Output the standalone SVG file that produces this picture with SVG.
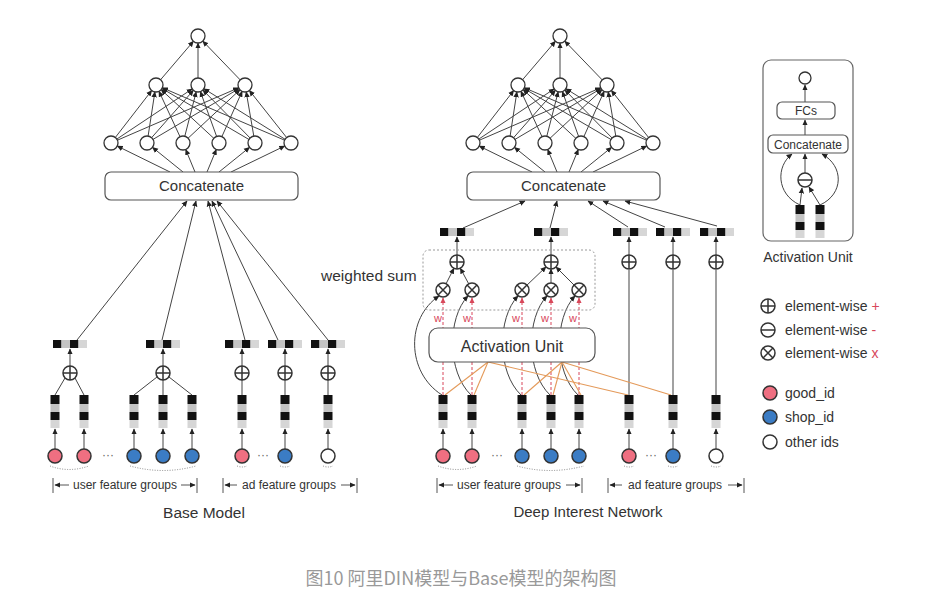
<svg xmlns="http://www.w3.org/2000/svg" width="945" height="598" viewBox="0 0 945 598">
<style>
.ln{stroke:#444;stroke-width:1;fill:none}
.ar{marker-end:url(#ah)}
.nd{fill:#fff;stroke:#333;stroke-width:1.3}
.gid{fill:#ef6f81;stroke:#333;stroke-width:1.5}
.sid{fill:#3b7cc4;stroke:#333;stroke-width:1.5}
.oid{fill:#fff;stroke:#333;stroke-width:1.5}
.box{fill:#fff;stroke:#555;stroke-width:1.2}
.tx{font-family:"Liberation Sans",Arial,sans-serif;fill:#333}
.red{stroke:#d8475a;stroke-width:1;stroke-dasharray:3 2;fill:none;marker-end:url(#ahr)}
.wl{font-family:"Liberation Sans",Arial,sans-serif;font-size:11px;fill:#d8475a;text-anchor:middle}
.or{stroke:#e49a5a;stroke-width:1.1;fill:none}
.dot{stroke:#888;stroke-width:1;stroke-dasharray:1 1.5;fill:none}
.gv{stroke:#8a8a8a;stroke-width:1.6;fill:none}
.br{stroke:#555;stroke-width:1;fill:none}
.dots{font-family:"Liberation Sans",Arial,sans-serif;font-size:12px;fill:#666;text-anchor:middle}
</style>
<defs>
<marker id="ah" viewBox="0 0 10 10" refX="9" refY="5" markerWidth="6" markerHeight="6" markerUnits="userSpaceOnUse" orient="auto"><path d="M0,0.5L10,5L0,9.5z" fill="#222"/></marker>
<marker id="ahr" viewBox="0 0 10 10" refX="9" refY="5" markerWidth="6" markerHeight="6" markerUnits="userSpaceOnUse" orient="auto"><path d="M0,0.5L10,5L0,9.5z" fill="#d8475a"/></marker>
<g id="hemb"><rect x="0" y="0" width="8.5" height="8" fill="#111"/><rect x="8.5" y="0" width="8.5" height="8" fill="#c4c4c4"/><rect x="17" y="0" width="8.5" height="8" fill="#111"/><rect x="25.5" y="0" width="8.5" height="8" fill="#d6d6d6"/></g>
<g id="vemb"><rect x="-4.5" y="0" width="9" height="9" fill="#111"/><rect x="-4.5" y="9" width="9" height="8" fill="#c4c4c4"/><rect x="-4.5" y="17" width="9" height="8" fill="#111"/><rect x="-4.5" y="25" width="9" height="8" fill="#d6d6d6"/></g>
<g id="oplus"><circle r="7" fill="#fff" stroke="#333" stroke-width="1.5"/><path d="M-7,0H7M0,-7V7" stroke="#333" stroke-width="1.5"/></g>
<g id="otimes"><circle r="7" fill="#fff" stroke="#333" stroke-width="1.5"/><path d="M-4.95,-4.95L4.95,4.95M-4.95,4.95L4.95,-4.95" stroke="#333" stroke-width="1.5"/></g>
<g id="ominus"><circle r="7" fill="#fff" stroke="#333" stroke-width="1.5"/><path d="M-7,0H7" stroke="#333" stroke-width="1.5"/></g>
<g id="mlpEdges" class="ln ar">
<path d="M160.6,79.7L193.4,41.3"/><path d="M198,78L198,43"/><path d="M240.2,79.9L202.8,41.1"/>
<path d="M115.3,137.5L151.7,90.5"/><path d="M148.1,136.1L154.9,91.9"/><path d="M180,136.7L159,91.3"/><path d="M213.8,138.3L161.2,89.7"/><path d="M249,139.5L162,88.5"/><path d="M284.6,140.2L162.4,87.8"/>
<path d="M116.8,139.1L192.2,88.9"/><path d="M151.6,137.7L193.4,90.3"/><path d="M184.8,136.2L196.2,91.8"/><path d="M216.6,136.4L200.4,91.6"/><path d="M250.1,138L202.9,90"/><path d="M285.1,139.3L203.9,88.7"/>
<path d="M117.4,140.2L238.6,87.8"/><path d="M153,139.4L239,88.6"/><path d="M188.1,138.2L239.9,89.8"/><path d="M221.9,136.6L242.1,91.4"/><path d="M253.8,136.1L246.2,91.9"/><path d="M286.6,137.5L249.4,90.5"/>
<path d="M170,172L117.3,146.1"/><path d="M183,172L152.5,147.4"/><path d="M195,172L185.7,149.5"/><path d="M207,172L216.3,149.5"/><path d="M219,172L249.5,147.4"/><path d="M231,172L284.7,146"/>
</g>
<g id="mlpNodes" class="nd">
<circle cx="198" cy="36" r="7"/>
<circle cx="156" cy="85" r="7"/><circle cx="198" cy="85" r="7"/><circle cx="245" cy="85" r="7"/>
<circle cx="111" cy="143" r="7"/><circle cx="147" cy="143" r="7"/><circle cx="183" cy="143" r="7"/><circle cx="219" cy="143" r="7"/><circle cx="255" cy="143" r="7"/><circle cx="291" cy="143" r="7"/>
</g>
</defs>

<g id="connectors">
<use href="#mlpEdges"/>
<use href="#mlpEdges" x="362"/>
<g class="ln ar">
<path d="M55,449V429"/><path d="M84,449V429"/><path d="M134,449V429"/><path d="M163,449V429"/><path d="M192,449V429"/><path d="M242,449V429"/><path d="M285,449V429"/><path d="M328,449V429"/>
<path d="M70,366V349"/><path d="M163,366V349"/><path d="M242,366V349"/><path d="M285,366V349"/><path d="M328,366V349"/>
<path d="M77,340L187,201"/><path d="M162,340L196,201"/><path d="M245,340L208,201"/><path d="M278,340L212,201"/><path d="M328,340L217,201"/>
</g>
<g class="ln">
<path d="M55,395L65,378"/><path d="M84,395L75,378"/><path d="M134,395L157,377"/><path d="M163,395V380"/><path d="M192,395L169,377"/><path d="M242,395V380"/><path d="M285,395V380"/><path d="M328,395V380"/>
</g>
<g class="dot">
<path d="M50,466Q69,473 89,466"/><path d="M130,466Q163,475 196,466"/><path d="M237,466Q242,468 247,466"/><path d="M280,466Q285,468 290,466"/><path d="M323,466Q328,468 333,466"/>
<path d="M438,466Q457,473 477,466"/><path d="M517,466Q550,475 584,466"/><path d="M624,466Q629,468 634,466"/><path d="M668,466Q673,468 678,466"/><path d="M711,466Q716,468 721,466"/>
</g>
<g class="ln ar">
<path d="M443,449V429"/><path d="M472,449V429"/><path d="M522,449V429"/><path d="M551,449V429"/><path d="M579,449V429"/><path d="M629,449V429"/><path d="M673,449V429"/><path d="M716,449V429"/>
<path d="M457,255V237"/><path d="M551,255V237"/><path d="M629,255V237"/><path d="M673,255V237"/><path d="M716,255V237"/>
<path d="M463,228L525,201"/><path d="M550,228L557,201"/><path d="M628,227L588,201"/><path d="M665,227L603,201"/><path d="M717,226L625,201"/>
<path d="M446.1,283.7L453.9,268.3"/><path d="M468.7,283.8L460.3,268.2"/><path d="M527,285.1L546,266.9"/><path d="M551,283V269"/><path d="M574,285L556,267"/>
</g>
<g class="gv"><path d="M629,395V270"/><path d="M673,395V270"/><path d="M716,395V270"/></g>
<g class="red">
<path d="M443,395V298"/><path d="M472,395V298"/><path d="M522,395V298"/><path d="M551,395V298"/><path d="M579,395V298"/>
</g>
<g class="ln ar">
<path d="M442,395C406,372 406,318 439,296"/>
<path d="M471,395C447,372 447,318 468,296"/>
<path d="M521,395C497,372 497,318 518,296"/>
<path d="M550,395C526,372 526,318 547,296"/>
<path d="M578,395C554,372 554,318 575,296"/>
</g>
<g class="or">
<path d="M488,362L445,395"/><path d="M488,362L474,395"/><path d="M488,362L628,395"/>
<path d="M562,362L524,395"/><path d="M562,362L553,395"/><path d="M562,362L581,395"/><path d="M562,362L671,395"/>
</g>
<g class="ln ar">
<path d="M805,102V85"/><path d="M805,135V120"/><path d="M805,173V154"/>
<path d="M800,205L802,188"/><path d="M820,205L809,187"/>
<path d="M800,205C776,194 776,166 792,154"/>
<path d="M820,205C844,194 844,166 822,154"/>
</g>
<g id="brackets">
<path class="br" d="M53,478V493M197,478V493M223,478V493M357,478V493M437,478V493M582,478V493M608,478V493M744,478V493"/>
<g class="br ar">
<path d="M69,485H55"/><path d="M181,485H195"/><path d="M237,485H225"/><path d="M341,485H355"/>
<path d="M453,485H439"/><path d="M566,485H580"/><path d="M622,485H610"/><path d="M728,485H742"/>
</g>
</g>
</g>

<g id="weighted-sum">
<rect x="423" y="250" width="172" height="60" rx="6" fill="none" stroke="#999" stroke-width="1" stroke-dasharray="2 2"/>
<text class="tx" x="321" y="281" font-size="15.5">weighted sum</text>
</g>

<g id="w-labels">
<text class="wl" x="438" y="322">w</text><text class="wl" x="467" y="322">w</text><text class="wl" x="516" y="322">w</text><text class="wl" x="545" y="322">w</text><text class="wl" x="573" y="322">w</text>
</g>

<g id="base-mlp"><use href="#mlpNodes"/></g>
<g id="din-mlp"><use href="#mlpNodes" x="362"/></g>

<g id="base-concat"><rect class="box" x="105" y="172" width="193" height="28" rx="6"/><text class="tx" x="201.5" y="191" font-size="15" text-anchor="middle">Concatenate</text></g>
<g id="din-concat"><rect class="box" x="467" y="172" width="193" height="28" rx="6"/><text class="tx" x="563.5" y="191" font-size="15" text-anchor="middle">Concatenate</text></g>

<g id="activation-unit"><rect class="box" x="429" y="328" width="166" height="34" rx="9"/><text class="tx" x="512" y="352" font-size="16" text-anchor="middle">Activation Unit</text></g>

<g id="base-pooled">
<use href="#hemb" x="53" y="340"/><use href="#hemb" x="146" y="340"/><use href="#hemb" x="225" y="340"/><use href="#hemb" x="268" y="340"/><use href="#hemb" x="311" y="340"/>
<use href="#oplus" x="70" y="373"/><use href="#oplus" x="163" y="373"/><use href="#oplus" x="242" y="373"/><use href="#oplus" x="285" y="373"/><use href="#oplus" x="328" y="373"/>
</g>
<g id="base-embeddings">
<use href="#vemb" x="55" y="395"/><use href="#vemb" x="84" y="395"/><use href="#vemb" x="134" y="395"/><use href="#vemb" x="163" y="395"/><use href="#vemb" x="192" y="395"/><use href="#vemb" x="242" y="395"/><use href="#vemb" x="285" y="395"/><use href="#vemb" x="328" y="395"/>
</g>
<g id="base-ids">
<circle class="gid" cx="55" cy="456" r="7"/><circle class="gid" cx="84" cy="456" r="7"/>
<circle class="sid" cx="134" cy="456" r="7"/><circle class="sid" cx="163" cy="456" r="7"/><circle class="sid" cx="192" cy="456" r="7"/>
<circle class="gid" cx="242" cy="456" r="7"/><circle class="sid" cx="285" cy="456" r="7"/><circle class="oid" cx="328" cy="456" r="7"/>
<text class="dots" x="108" y="459">···</text>
<text class="dots" x="263" y="459">···</text>
</g>

<g id="din-pooled">
<use href="#hemb" x="440" y="228"/><use href="#hemb" x="534" y="228"/><use href="#hemb" x="613" y="228"/><use href="#hemb" x="656" y="228"/><use href="#hemb" x="700" y="228"/>
<use href="#oplus" x="457" y="262"/><use href="#oplus" x="551" y="262"/><use href="#oplus" x="629" y="262"/><use href="#oplus" x="673" y="262"/><use href="#oplus" x="716" y="262"/>
<use href="#otimes" x="443" y="290"/><use href="#otimes" x="472" y="290"/><use href="#otimes" x="522" y="290"/><use href="#otimes" x="551" y="290"/><use href="#otimes" x="579" y="290"/>
</g>
<g id="din-embeddings">
<use href="#vemb" x="443" y="395"/><use href="#vemb" x="472" y="395"/><use href="#vemb" x="522" y="395"/><use href="#vemb" x="551" y="395"/><use href="#vemb" x="579" y="395"/><use href="#vemb" x="629" y="395"/><use href="#vemb" x="673" y="395"/><use href="#vemb" x="716" y="395"/>
</g>
<g id="din-ids">
<circle class="gid" cx="443" cy="456" r="7"/><circle class="gid" cx="472" cy="456" r="7"/>
<circle class="sid" cx="522" cy="456" r="7"/><circle class="sid" cx="551" cy="456" r="7"/><circle class="sid" cx="579" cy="456" r="7"/>
<circle class="gid" cx="629" cy="456" r="7"/><circle class="sid" cx="673" cy="456" r="7"/><circle class="oid" cx="716" cy="456" r="7"/>
<text class="dots" x="497" y="459">···</text>
<text class="dots" x="651" y="459">···</text>
</g>

<g id="group-labels" class="tx" font-size="12" text-anchor="middle">
<text x="125" y="489">user feature groups</text>
<text x="289" y="489">ad feature groups</text>
<text x="509" y="489">user feature groups</text>
<text x="675" y="489">ad feature groups</text>
</g>

<text class="tx" x="204" y="518" font-size="15.5" text-anchor="middle">Base Model</text>
<text class="tx" x="588" y="517" font-size="15" text-anchor="middle">Deep Interest Network</text>

<g id="activation-inset">
<rect x="763" y="60" width="90" height="181" rx="8" fill="none" stroke="#666" stroke-width="1.2"/>
<circle class="nd" cx="805" cy="78" r="6"/>
<rect class="box" x="777" y="102" width="58" height="17" rx="5"/><text class="tx" x="806" y="115" font-size="12" text-anchor="middle">FCs</text>
<rect class="box" x="768" y="135" width="80" height="18" rx="5"/><text class="tx" x="808" y="148.5" font-size="12" text-anchor="middle">Concatenate</text>
<use href="#ominus" x="805" y="180"/>
<use href="#vemb" x="800" y="205"/><use href="#vemb" x="820" y="205"/>
<text class="tx" x="808" y="262" font-size="14" text-anchor="middle">Activation Unit</text>
</g>

<g id="legend">
<use href="#oplus" x="768" y="306"/><text class="tx" x="785" y="311" font-size="14">element-wise <tspan fill="#d8475a">+</tspan></text>
<use href="#ominus" x="768" y="330"/><text class="tx" x="785" y="335" font-size="14">element-wise <tspan fill="#d8475a">-</tspan></text>
<use href="#otimes" x="768" y="353"/><text class="tx" x="785" y="358" font-size="14">element-wise <tspan fill="#d8475a">x</tspan></text>
<circle class="gid" cx="770" cy="393" r="7"/><text class="tx" x="785" y="398" font-size="14">good_id</text>
<circle class="sid" cx="770" cy="417" r="7"/><text class="tx" x="785" y="422" font-size="14">shop_id</text>
<circle class="oid" cx="770" cy="442" r="7"/><text class="tx" x="785" y="447" font-size="14">other ids</text>
</g>

<text x="461" y="585" font-family="'Noto Sans CJK SC',sans-serif" font-size="18" fill="#999" text-anchor="middle">图10 阿里DIN模型与Base模型的架构图</text>
</svg>
